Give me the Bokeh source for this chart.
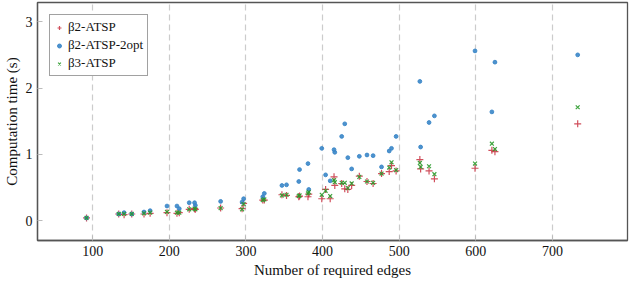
from bokeh.plotting import figure
from bokeh.models import Range1d, FixedTicker, Legend, LegendItem
from bokeh.embed import file_html
from bokeh.resources import INLINE

edges = [92, 134, 141, 151, 167, 175, 197, 210, 213, 226, 233, 234, 267, 295, 297,
         322, 324, 347, 353, 369, 370, 381, 382, 399, 404, 410, 415, 416, 425, 429,
         433, 438, 448, 458, 466, 477, 487, 490, 496, 527, 528, 539, 546, 599, 621,
         625, 733]
b2_atsp = [0.04, 0.10, 0.09, 0.10, 0.10, 0.11, 0.12, 0.11, 0.12, 0.17, 0.18, 0.17, 0.19, 0.18, 0.26,
           0.31, 0.31, 0.39, 0.38, 0.36, 0.37, 0.36, 0.40, 0.33, 0.47, 0.33, 0.66, 0.53, 0.56, 0.48,
           0.47, 0.53, 0.67, 0.59, 0.56, 0.71, 0.74, 0.83, 0.75, 0.92, 0.78, 0.75, 0.63, 0.79, 1.06,
           1.04, 1.46]
b2_atsp_2opt = [0.04, 0.10, 0.12, 0.10, 0.13, 0.15, 0.22, 0.22, 0.18, 0.27, 0.27, 0.23, 0.29, 0.28, 0.33,
                0.36, 0.41, 0.53, 0.54, 0.59, 0.77, 0.86, 0.47, 1.09, 0.69, 0.60, 1.07, 1.03, 1.27, 1.46,
                0.95, 0.78, 0.97, 0.99, 0.98, 0.81, 1.05, 1.09, 1.27, 2.10, 1.11, 1.48, 1.58, 2.56, 1.64,
                2.39, 2.50]
b3_atsp = [0.04, 0.10, 0.10, 0.10, 0.11, 0.12, 0.13, 0.12, 0.12, 0.17, 0.18, 0.17, 0.19, 0.17, 0.25,
           0.31, 0.32, 0.38, 0.39, 0.37, 0.38, 0.41, 0.43, 0.39, 0.45, 0.37, 0.61, 0.58, 0.57, 0.57,
           0.49, 0.56, 0.66, 0.59, 0.57, 0.71, 0.80, 0.88, 0.76, 0.87, 0.81, 0.82, 0.70, 0.86, 1.16,
           1.08, 1.71]
x_ticks = [100, 200, 300, 400, 500, 600, 700]
y_ticks = [0, 1, 2, 3]

RED = "#c8303f"
BLUE = "#3a86c8"
GREEN = "#2a9a2a"
FONT = "Liberation Serif"

p = figure(frame_width=590, frame_height=238, output_backend="svg", toolbar_location=None,
           x_range=Range1d(28, 798), y_range=Range1d(-0.30, 3.29),
           min_border_top=2, min_border_right=2, min_border_left=0, min_border_bottom=0)

r1 = p.scatter(edges, b2_atsp, marker="cross", size=7, line_color=RED, line_width=1.2, line_alpha=0.85)
r2 = p.scatter(edges, b2_atsp_2opt, marker="circle", size=3.8, fill_color=BLUE, line_color=BLUE, alpha=0.9)
r3 = p.scatter(edges, b3_atsp, marker="x", size=5.5, line_color=GREEN, line_width=1.2, line_alpha=0.9)

p.xaxis.ticker = FixedTicker(ticks=x_ticks)
p.yaxis.ticker = FixedTicker(ticks=y_ticks)
p.xaxis.axis_label = "Number of required edges"
p.yaxis.axis_label = "Computation time (s)"
for ax in (p.xaxis, p.yaxis):
    ax.axis_label_text_font = FONT
    ax.axis_label_text_font_style = "normal"
    ax.axis_label_text_font_size = "15px"
    ax.axis_label_text_color = "#111111"
    ax.major_label_text_font = FONT
    ax.major_label_text_font_size = "14px"
    ax.major_label_text_color = "#111111"
    ax.major_tick_in = 5
    ax.major_tick_out = 0
    ax.major_tick_line_color = "#bbbbbb"
    ax.minor_tick_line_color = None
    ax.axis_line_color = "#555555"
    ax.axis_line_width = 1.3
    ax.major_label_standoff = 5
    ax.axis_label_standoff = 3

p.xgrid.grid_line_color = "#cccccc"
p.xgrid.grid_line_dash = "6 4"
p.xgrid.grid_line_width = 1.2
p.ygrid.grid_line_color = None
p.outline_line_color = "#555555"
p.outline_line_width = 1.3
p.background_fill_color = "white"
p.border_fill_color = "white"

legend = Legend(items=[
    LegendItem(label="β2-ATSP", renderers=[r1]),
    LegendItem(label="β2-ATSP-2opt", renderers=[r2]),
    LegendItem(label="β3-ATSP", renderers=[r3]),
], location="top_left")
legend.label_text_font = FONT
legend.label_text_font_size = "13px"
legend.label_text_color = "#111111"
legend.glyph_width = 10
legend.glyph_height = 15
legend.label_height = 15
legend.spacing = 2
legend.padding = 4
legend.margin = 12
legend.label_standoff = 4
legend.border_line_color = "#444444"
legend.border_line_width = 1
legend.background_fill_alpha = 1.0
p.add_layout(legend)

open("out.html", "w").write(file_html(p, INLINE))
